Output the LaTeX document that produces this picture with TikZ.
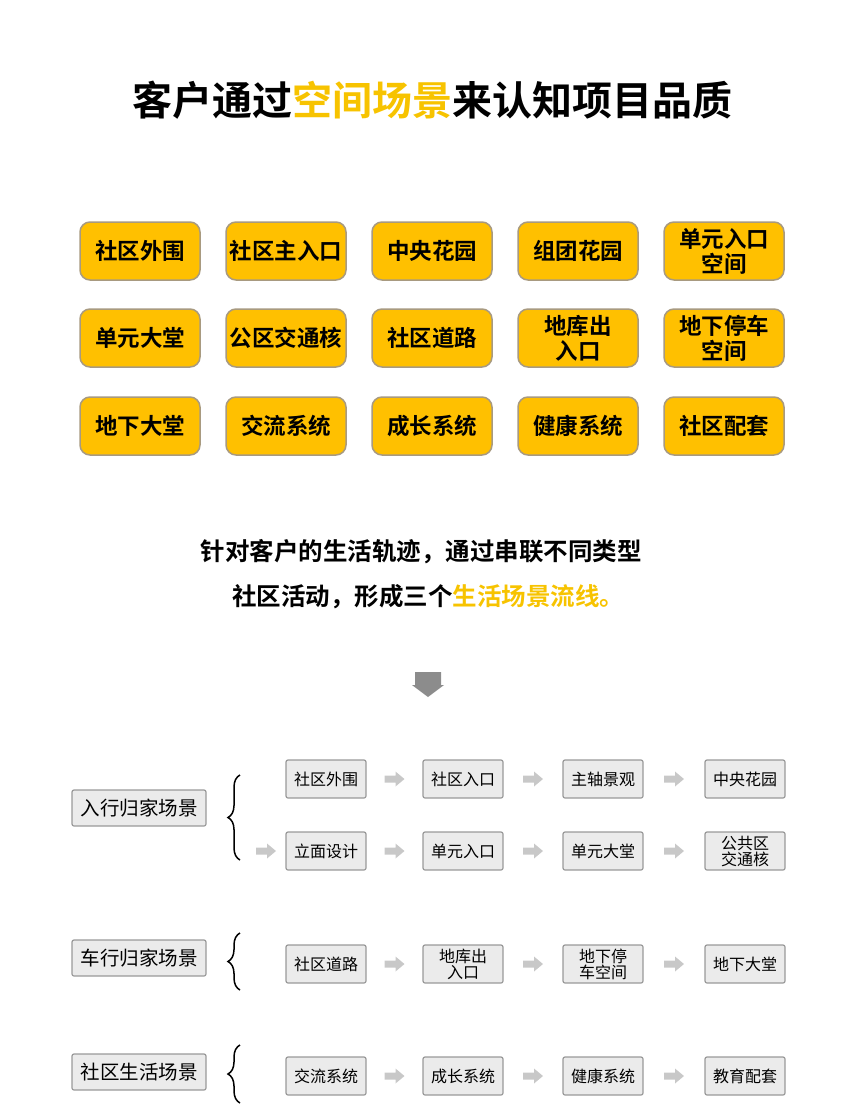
\documentclass[tikz,border=0pt]{standalone}
\usepackage{fontspec}
\setmainfont{Noto Sans CJK SC}
\newfontfamily\cjkb{Noto Sans CJK SC Bold}
\usetikzlibrary{decorations.pathreplacing,calc}
\definecolor{ylw}{HTML}{FFC000}
\definecolor{ttl}{HTML}{F7C300}
\definecolor{ybd}{HTML}{A89A80}
\definecolor{gbx}{HTML}{EBEBEB}
\definecolor{garr}{HTML}{C8C8C8}
\newcommand\grarrow[1]{\fill[garr] ($(#1)+(-10,-3.5)$) -- ++(11,0) -- ++(0,-4) -- ++(9,7.5) -- ++(-9,7.5) -- ++(0,-4) -- ++(-11,0) -- cycle;}
\begin{document}
\begin{tikzpicture}[x=1pt,y=-1pt,
 ybox/.style={draw=ybd,line width=1.5pt,fill=ylw,rounded corners=10pt,minimum width=120pt,minimum height=58pt,align=center,font=\cjkb\fontsize{22.5}{25}\selectfont,inner sep=1pt},
 cbox/.style={draw=gray!80,line width=1.2pt,fill=gbx,rounded corners=2pt,minimum width=134pt,minimum height=36pt,font=\fontsize{19.5}{21}\selectfont,inner sep=1pt},
 fbox/.style={draw=gray!80,line width=1.2pt,fill=gbx,rounded corners=2pt,minimum width=80pt,minimum height=38pt,align=center,font=\fontsize{16}{16}\selectfont,inner sep=1pt},
 brc/.style={decorate,decoration={brace,amplitude=12pt},line width=1.5pt}]
\useasboundingbox (0,0) rectangle (858,1110);
\node[font=\cjkb\fontsize{40}{44}\selectfont] (title) at (432,100) {客户通过\textcolor{ttl}{空间场景}来认知项目品质};
\foreach \r/\y/\a/\b/\c/\d/\e in {1/251/社区外围/社区主入口/中央花园/组团花园/{单元入口\\空间},2/338/单元大堂/公区交通核/社区道路/{地库出\\入口}/{地下停车\\空间},3/426/地下大堂/交流系统/成长系统/健康系统/社区配套}{
 \node[ybox] (y\r a) at (140,\y) {\a};
 \node[ybox] (y\r b) at (286,\y) {\b};
 \node[ybox] (y\r c) at (432,\y) {\c};
 \node[ybox] (y\r d) at (578,\y) {\d};
 \node[ybox] (y\r e) at (724,\y) {\e};
}
\node[font=\cjkb\fontsize{24.5}{28}\selectfont] (l1) at (421,552) {针对客户的生活轨迹，通过串联不同类型};
\node[font=\cjkb\fontsize{24.5}{28}\selectfont] (l2) at (428,597) {社区活动，形成三个\textcolor{ttl}{生活场景流线。}};
\coordinate (down) at (428,684);
\fill[gray!90] ($(down)+(-13,-12)$) -- ++(26,0) -- ++(0,13) -- ++(3,0) -- ++(-16,12) -- ++(-16,-12) -- ++(3,0) -- cycle;
\node[cbox] (c1) at (139,808) {入行归家场景};
\node[cbox] (c2) at (139,958) {车行归家场景};
\node[cbox] (c3) at (139,1072) {社区生活场景};
\draw[brc] (240,860) -- (240,775);
\draw[brc] (240,990) -- (240,933);
\draw[brc] (240,1103) -- (240,1045);
\foreach \r/\y/\a/\b/\c/\d in {1/779/社区外围/社区入口/主轴景观/中央花园,2/851/立面设计/单元入口/单元大堂/{公共区\\交通核},3/964/社区道路/{地库出\\入口}/{地下停\\车空间}/地下大堂,4/1076/交流系统/成长系统/健康系统/教育配套}{
 \node[fbox] (f\r a) at (326,\y) {\a};
 \node[fbox] (f\r b) at (463,\y) {\b};
 \node[fbox] (f\r c) at (603,\y) {\c};
 \node[fbox] (f\r d) at (745,\y) {\d};
 \coordinate (a\r 1) at ($(f\r a.east)!0.5!(f\r b.west)$);
 \coordinate (a\r 2) at ($(f\r b.east)!0.5!(f\r c.west)$);
 \coordinate (a\r 3) at ($(f\r c.east)!0.5!(f\r d.west)$);
 \grarrow{a\r 1}\grarrow{a\r 2}\grarrow{a\r 3}
}
\coordinate (a20) at (266,851);
\grarrow{a20}
\end{tikzpicture}
\end{document}
